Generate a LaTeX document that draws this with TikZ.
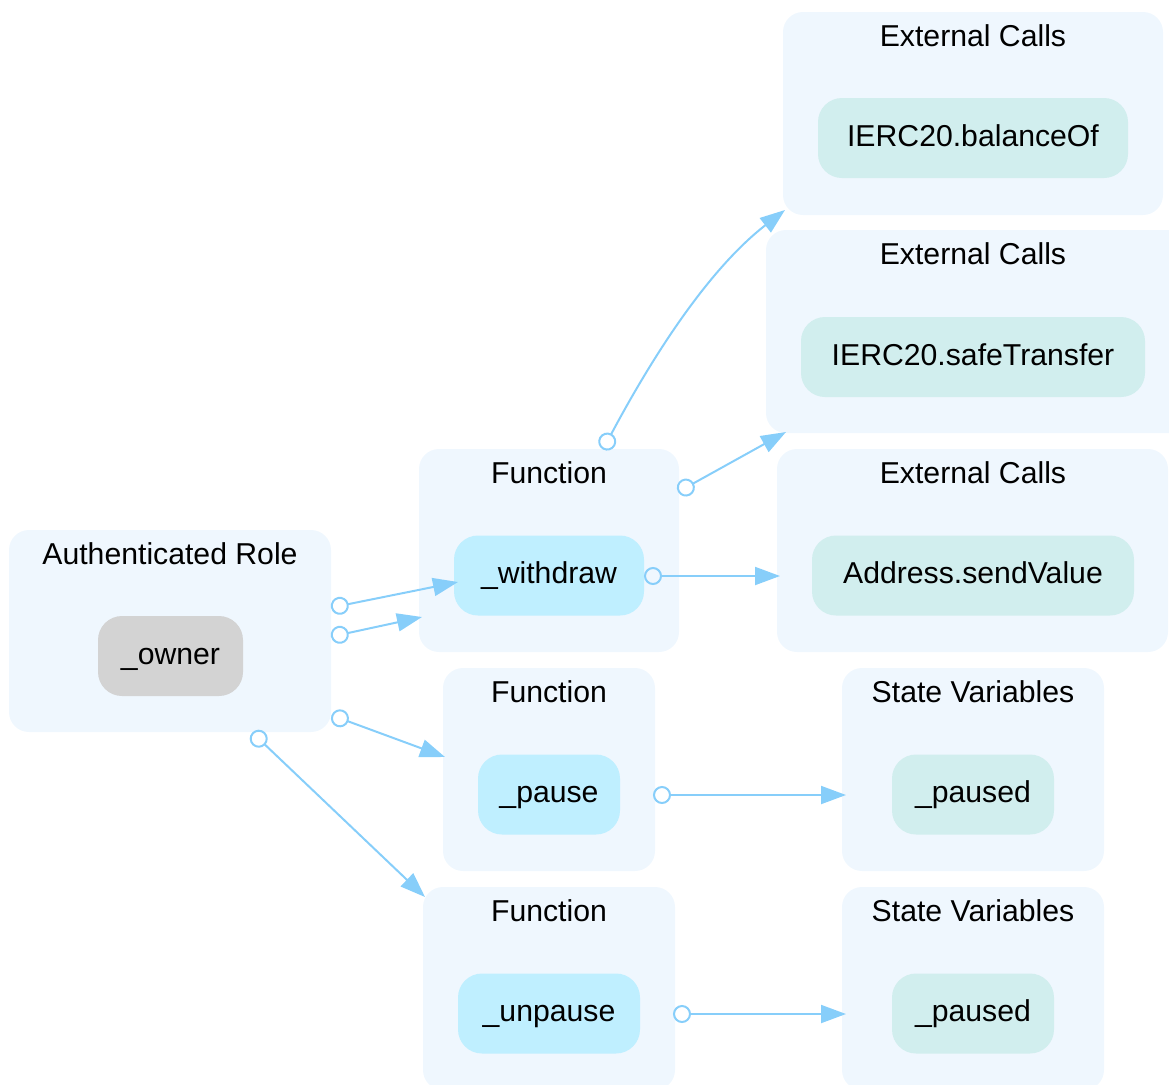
\documentclass[tikz,border=0pt]{standalone}
\usepackage{fontspec}
\setmainfont{Liberation Sans}
\usetikzlibrary{arrows.meta}
\definecolor{clusterbg}{HTML}{EFF7FE}
\definecolor{extfill}{HTML}{D1EEEE}
\definecolor{fnfill}{HTML}{BFEFFF}
\definecolor{ownerfill}{HTML}{D3D3D3}
\definecolor{edgecol}{HTML}{87CEFA}
\tikzset{
  clusterbox/.style={fill=clusterbg, draw=none, rounded corners=10pt},
  clabel/.style={font=\fontsize{15.1}{18}\selectfont, text=black, inner sep=0pt, text height=11pt, text depth=3pt},
  basenode/.style={draw=none, rounded corners=12pt, minimum height=40pt, inner sep=0pt, text height=11pt, text depth=3pt, font=\fontsize{15.1}{18}\selectfont, text=black},
  extnode/.style={basenode, fill=extfill},
  fnnode/.style={basenode, fill=fnfill},
  ownernode/.style={basenode, fill=ownerfill},
  edge/.style={draw=edgecol, line width=1pt, {Circle[open, length=9pt, width=9pt, line width=1pt]}-{Triangle[length=12.5pt, width=9pt]}}
}
\begin{document}
\begin{tikzpicture}[x=0.5pt, y=-0.5pt]
\useasboundingbox (0,0) rectangle (1169,1084);
% clusters
\path[clusterbox] (783,12) rectangle (1163,215);
\node[clabel] (lab1) at (973,38.5) {External Calls};
\path[clusterbox] (766,230) rectangle (1190,433);
\node[clabel] (lab2) at (973,256.5) {External Calls};
\path[clusterbox] (777,449) rectangle (1168,652);
\node[clabel] (lab3) at (973,475.5) {External Calls};
\path[clusterbox] (419,449) rectangle (679,652);
\node[clabel] (lab4) at (549,475.5) {Function};
\path[clusterbox] (9,530) rectangle (331,732);
\node[clabel] (lab5) at (170,556.5) {Authenticated Role};
\path[clusterbox] (443,668) rectangle (655,871);
\node[clabel] (lab6) at (549,694.5) {Function};
\path[clusterbox] (842,668) rectangle (1104,871);
\node[clabel] (lab7) at (973,694.5) {State Variables};
\path[clusterbox] (423,887) rectangle (675,1090);
\node[clabel] (lab8) at (549,913.5) {Function};
\path[clusterbox] (842,887) rectangle (1104,1090);
\node[clabel] (lab9) at (973,913.5) {State Variables};
% nodes
\node[extnode, minimum width=155pt] (balanceOf) at (973,138) {IERC20.balanceOf};
\node[extnode, minimum width=172pt] (safeTransfer) at (973,357) {IERC20.safeTransfer};
\node[extnode, minimum width=161pt] (sendValue) at (973,575.5) {Address.sendValue};
\node[fnnode, minimum width=95pt] (withdraw) at (549,575.5) {\_withdraw};
\node[ownernode, minimum width=72.5pt] (owner) at (170.5,656) {\_owner};
\node[fnnode, minimum width=71pt] (pause) at (549,794.5) {\_pause};
\node[extnode, minimum width=81pt] (pausedA) at (973,794.5) {\_paused};
\node[fnnode, minimum width=91pt] (unpause) at (549,1013.5) {\_unpause};
\node[extnode, minimum width=81pt] (pausedB) at (973,1013.5) {\_paused};
% edge endpoints
\coordinate (e1s) at (331,607.6);
\coordinate (e1e) at (458,582);
\coordinate (e2s) at (331,636.7);
\coordinate (e2e) at (422,617);
\coordinate (e3s) at (331.5,715.2);
\coordinate (e3e) at (445,757);
\coordinate (e4s) at (252.2,732.5);
\coordinate (e4e) at (425,897);
\coordinate (e5s) at (603,449.5);
\coordinate (e5e) at (785,210);
\coordinate (e6s) at (678,491.9);
\coordinate (e6e) at (786,432);
\coordinate (e7s) at (644,576);
\coordinate (e7e) at (780,576);
\coordinate (e8s) at (653,795);
\coordinate (e8e) at (846,795);
\coordinate (e9s) at (673,1014);
\coordinate (e9e) at (846,1014);
% edges
\draw[edge] (e1s) -- (e1e);
\draw[edge] (e2s) -- (e2e);
\draw[edge] (e3s) -- (e3e);
\draw[edge] (e4s) -- (e4e);
\draw[edge] (e5s) .. controls (648,365) and (705,272) .. (e5e);
\draw[edge] (e6s) -- (e6e);
\draw[edge] (e7s) -- (e7e);
\draw[edge] (e8s) -- (e8e);
\draw[edge] (e9s) -- (e9e);
\end{tikzpicture}
\end{document}
